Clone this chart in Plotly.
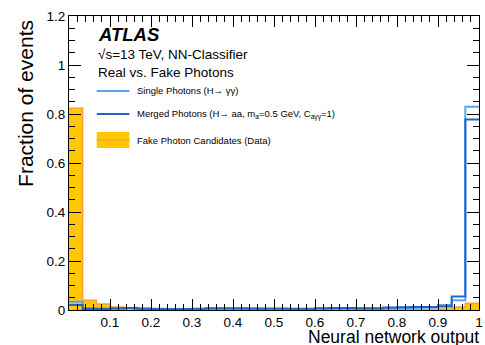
import plotly.graph_objects as go

# Binning of the classifier output: 30 equal bins on [0, 1]
n_bins = 30
bin_edges = [i / n_bins for i in range(n_bins + 1)]
bin_centers = [(bin_edges[i] + bin_edges[i + 1]) / 2 for i in range(n_bins)]

# Normalised fractions per bin
single_photons = [0.034, 0.008, 0.006, 0.007, 0.008, 0.006, 0.005, 0.004, 0.004, 0.004,
                  0.005, 0.005, 0.005, 0.005, 0.004, 0.004, 0.004, 0.004, 0.005, 0.005,
                  0.005, 0.005, 0.005, 0.007, 0.008, 0.009, 0.010, 0.020, 0.040, 0.830]
merged_photons = [0.020, 0.004, 0.004, 0.006, 0.008, 0.005, 0.004, 0.004, 0.004, 0.005,
                  0.007, 0.007, 0.007, 0.006, 0.006, 0.006, 0.005, 0.005, 0.007, 0.008,
                  0.008, 0.007, 0.007, 0.010, 0.011, 0.012, 0.012, 0.014, 0.055, 0.778]
fake_photons = [0.823, 0.040, 0.024, 0.012, 0.008, 0.006, 0.004, 0.004, 0.003, 0.003,
                0.003, 0.002, 0.002, 0.002, 0.002, 0.002, 0.002, 0.002, 0.002, 0.002,
                0.002, 0.002, 0.002, 0.002, 0.002, 0.003, 0.003, 0.004, 0.012, 0.028]

x_tick_vals = [0.1, 0.2, 0.3, 0.4, 0.5, 0.6, 0.7, 0.8, 0.9, 1]
x_tick_text = ["0.1", "0.2", "0.3", "0.4", "0.5", "0.6", "0.7", "0.8", "0.9", "1"]
y_tick_vals = [0, 0.2, 0.4, 0.6, 0.8, 1, 1.2]
y_tick_text = ["0", "0.2", "0.4", "0.6", "0.8", "1", "1.2"]

LIGHT_BLUE = "#55A5F2"
DARK_BLUE = "#1E66C8"
GOLD = "#FFC800"
ORANGE = "#FFA030"
FONT = "Liberation Sans"

fig = go.Figure()

# Fake photon candidates: filled histogram with an outline
fig.add_trace(go.Bar(x=bin_centers, y=fake_photons, width=1 / n_bins,
                     marker=dict(color=GOLD, line=dict(width=0)),
                     showlegend=False, hoverinfo="skip"))
fig.add_trace(go.Scatter(x=bin_edges, y=fake_photons + [fake_photons[-1]],
                         mode="lines", line=dict(color=ORANGE, width=1.5, shape="hv"),
                         showlegend=False, hoverinfo="skip"))

# Photon signal samples as step histograms
fig.add_trace(go.Scatter(x=bin_edges, y=single_photons + [single_photons[-1]],
                         mode="lines", line=dict(color=LIGHT_BLUE, width=2, shape="hv"),
                         showlegend=False, hoverinfo="skip"))
fig.add_trace(go.Scatter(x=bin_edges, y=merged_photons + [merged_photons[-1]],
                         mode="lines", line=dict(color=DARK_BLUE, width=2, shape="hv"),
                         showlegend=False, hoverinfo="skip"))

# Empty trace that anchors the mirrored top/right axes
fig.add_trace(go.Scatter(x=[], y=[], xaxis="x2", yaxis="y2", showlegend=False))

W, H = 485, 345
L, R, T, B = 69, 2, 16, 35
pw, ph = W - L - R, H - T - B


def px(x):
    return (x - L) / pw


def py(y):
    return (H - B - y) / ph


axis_common = dict(showgrid=False, zeroline=False, showline=True, linecolor="black",
                   linewidth=1, ticks="inside", tickcolor="black",
                   ticklabeloverflow="allow",
                   tickfont=dict(family=FONT, size=13.5, color="black"))
x_minor = dict(dtick=0.02, tick0=0, ticks="inside", ticklen=6, tickcolor="black")
y_minor = dict(dtick=0.05, tick0=0, ticks="inside", ticklen=6, tickcolor="black")

fig.update_layout(
    xaxis=dict(range=[0, 1], tickvals=x_tick_vals, ticktext=x_tick_text, ticklen=11,
               ticklabelstandoff=0, minor=x_minor, **axis_common),
    yaxis=dict(range=[0, 1.2], tickvals=y_tick_vals, ticktext=y_tick_text, ticklen=12,
               minor=y_minor, **axis_common),
    xaxis2=dict(range=[0, 1], overlaying="x", side="top", anchor="y2",
                tickvals=x_tick_vals, ticklen=11, showticklabels=False,
                minor=x_minor, **axis_common),
    yaxis2=dict(range=[0, 1.2], overlaying="y", side="right", anchor="x2",
                tickvals=y_tick_vals, ticklen=12, showticklabels=False,
                minor=y_minor, **axis_common),
)

ann = []
# Axis titles
ann.append(dict(text="Fraction of events", x=px(25), y=py(18), xref="paper", yref="paper",
                textangle=-90, xanchor="center", yanchor="top", showarrow=False,
                font=dict(family=FONT, size=21, color="black")))
ann.append(dict(text="Neural network output", x=px(484), y=py(337), xref="paper", yref="paper",
                xanchor="right", yanchor="middle", showarrow=False, borderpad=0,
                font=dict(family=FONT, size=17.5, color="black")))
# Labels
ann.append(dict(text="<b><i>ATLAS</i></b>", x=px(96), y=py(35), xref="paper", yref="paper",
                xanchor="left", yanchor="middle", showarrow=False,
                font=dict(family=FONT, size=18.5, color="black")))
ann.append(dict(text="√s=13 TeV, NN-Classifier", x=px(96), y=py(54), xref="paper", yref="paper",
                xanchor="left", yanchor="middle", showarrow=False,
                font=dict(family=FONT, size=13.5, color="black")))
ann.append(dict(text="Real vs. Fake Photons", x=px(96), y=py(72), xref="paper", yref="paper",
                xanchor="left", yanchor="middle", showarrow=False,
                font=dict(family=FONT, size=13.5, color="black")))

# Legend entries
legend_rows = [
    ("Single Photons (H→ γγ)", 91),
    ("Merged Photons (H→ aa, m<sub>a</sub>=0.5 GeV, C<sub>aγγ</sub>=1)", 114),
    ("Fake Photon Candidates (Data)", 140),
]
for text, y in legend_rows:
    ann.append(dict(text=text, x=px(136), y=py(y), xref="paper", yref="paper",
                    xanchor="left", yanchor="middle", showarrow=False,
                    font=dict(family=FONT, size=9.5, color="black")))

shapes = [
    dict(type="line", xref="paper", yref="paper", x0=px(97), x1=px(130), y0=py(91), y1=py(91),
         line=dict(color=LIGHT_BLUE, width=2)),
    dict(type="line", xref="paper", yref="paper", x0=px(97), x1=px(130), y0=py(114), y1=py(114),
         line=dict(color=DARK_BLUE, width=2)),
    dict(type="rect", xref="paper", yref="paper", x0=px(97), x1=px(130), y0=py(148), y1=py(132),
         fillcolor=GOLD, line=dict(width=0)),
    dict(type="line", xref="paper", yref="paper", x0=px(97), x1=px(130), y0=py(140), y1=py(140),
         line=dict(color=ORANGE, width=1.5)),
]

fig.update_layout(width=W, height=H, margin=dict(l=L, r=R, t=T, b=B),
                  plot_bgcolor="white", paper_bgcolor="white", bargap=0,
                  annotations=ann, shapes=shapes, showlegend=False)

fig.write_html("out.html")
